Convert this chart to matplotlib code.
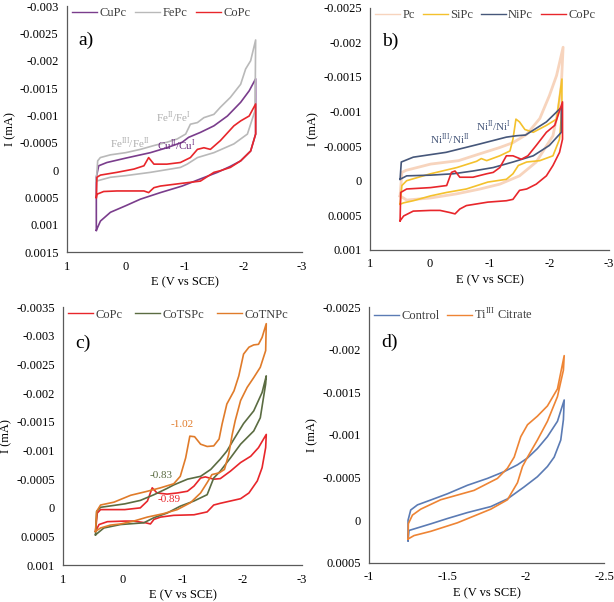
import numpy as np
import matplotlib
matplotlib.use('Agg')
import matplotlib.pyplot as plt
from matplotlib.ticker import MultipleLocator, FuncFormatter

plt.rcParams['font.family'] = ['Liberation Serif', 'DejaVu Serif']
plt.rcParams['mathtext.fontset'] = 'custom'
plt.rcParams['mathtext.rm'] = 'Liberation Serif'
plt.rcParams['axes.unicode_minus'] = False

# ---- data: (E in V vs SCE, I in mA) ----
# panel a
a_cupc = [(0.50, 0.0011), (0.50, 0.00013), (0.46, -0.00008), (0.32, -0.00014), (0.0, -0.00022),
          (-0.42, -0.00032), (-0.70, -0.00041), (-0.96, -0.00051), (-1.07, -0.0006), (-1.27, -0.00069),
          (-1.5, -0.00081), (-1.73, -0.00099), (-1.955, -0.00124), (-2.1, -0.00145), (-2.21, -0.00167),
          (-2.21, -0.00066), (-2.125, -0.00035), (-1.955, -0.00017), (-1.78, -0.00007), (-1.56, 0.00004),
          (-1.27, 0.00016), (-0.96, 0.00029), (-0.59, 0.00041), (-0.25, 0.00053), (0.0, 0.00065),
          (0.26, 0.00077), (0.43, 0.00093), (0.50, 0.0011)]
a_fepc = [(0.50, 0.0002), (0.477, -0.00017), (0.432, -0.00023), (0.261, -0.00028), (0.0, -0.00032),
          (-0.25, -0.00038), (-0.48, -0.00045), (-0.70, -0.00051), (-0.875, -0.00057), (-1.02, -0.00066),
          (-1.10, -0.00084), (-1.22, -0.00087), (-1.33, -0.00096), (-1.5, -0.00102), (-1.61, -0.00115),
          (-1.78, -0.00133), (-1.955, -0.00157), (-2.04, -0.00185), (-2.125, -0.002), (-2.21, -0.00238),
          (-2.2, -0.00109), (-2.07, -0.00066), (-1.84, -0.00048), (-1.5, -0.00032), (-1.22, -0.00023),
          (-1.045, -0.00011), (-0.93, -0.00005), (-0.42, 0.00004), (0.0, 0.0001), (0.26, 0.00013),
          (0.50, 0.0002)]
a_copc = [(0.50, 0.0005), (0.49, 0.00013), (0.43, 0.00009), (0.15, 0.00004), (-0.14, -0.00002),
          (-0.31, -0.00008), (-0.39, -0.00023), (-0.48, -0.00011), (-0.70, -0.00011), (-0.93, -0.00014),
          (-1.10, -0.00023), (-1.22, -0.00038), (-1.33, -0.00041), (-1.44, -0.00038), (-1.61, -0.00054),
          (-1.84, -0.00081), (-1.955, -0.0009), (-2.1, -0.00099), (-2.21, -0.00121), (-2.21, -0.00066),
          (-2.125, -0.00035), (-1.955, -0.00017), (-1.78, -0.00005), (-1.61, 0.00001), (-1.5, 0.00004),
          (-1.27, 0.0002), (-0.96, 0.00024), (-0.59, 0.00029), (-0.48, 0.00032), (-0.39, 0.00041),
          (-0.31, 0.00038), (-0.14, 0.00038), (0.15, 0.00038), (0.375, 0.00039), (0.49, 0.00044),
          (0.50, 0.0005)]

# panel b
b_pc = [(0.50, 0.00022), (0.47, -0.00012), (0.40, -0.00015), (0.17, -0.0002), (-0.01, -0.00024),
        (-0.48, -0.00029), (-0.84, -0.00039), (-1.17, -0.00048), (-1.39, -0.00055), (-1.62, -0.00067),
        (-1.84, -0.0009), (-2.0, -0.00123), (-2.12, -0.00152), (-2.23, -0.00193), (-2.2, -0.00138),
        (-2.15, -0.00104), (-2.06, -0.00065), (-1.78, -0.00027), (-1.5, -0.00007), (-1.17, 0.00005),
        (-0.84, 0.00012), (-0.45, 0.00019), (-0.01, 0.00025), (0.39, 0.00028), (0.50, 0.00022)]
b_sipc = [(0.50, 0.00034), (0.47, 0.00007), (0.39, 0.0), (-0.01, -0.0001), (-0.45, -0.00019),
          (-0.78, -0.00028), (-0.86, -0.00032), (-0.95, -0.00029), (-1.17, -0.00036), (-1.34, -0.00043),
          (-1.39, -0.0006), (-1.44, -0.00089), (-1.5, -0.00085), (-1.59, -0.00074), (-1.73, -0.0007),
          (-1.95, -0.0008), (-2.12, -0.00089), (-2.21, -0.00147), (-2.21, -0.00104), (-2.17, -0.0006),
          (-2.06, -0.00036), (-1.84, -0.00029), (-1.62, -0.00027), (-1.48, -0.00022), (-1.39, -0.0001),
          (-1.28, -0.00002), (-0.97, 0.00002), (-0.61, 0.00012), (-0.28, 0.00017), (-0.01, 0.00022),
          (0.28, 0.00029), (0.44, 0.00032), (0.50, 0.00034)]
b_nipc = [(0.50, -0.00002), (0.48, -0.00027), (0.28, -0.00034), (-0.27, -0.00041), (-0.83, -0.00053),
          (-1.28, -0.00063), (-1.45, -0.00065), (-1.6, -0.00066), (-1.95, -0.00085), (-2.2, -0.00106),
          (-2.2, -0.0007), (-2.0, -0.00051), (-1.73, -0.00036), (-1.39, -0.00027), (-1.06, -0.00019),
          (-0.72, -0.00014), (-0.39, -0.0001), (-0.01, -0.00008), (0.39, -0.00007), (0.50, -0.00002)]
b_copc = [(0.50, 0.00058), (0.49, 0.00017), (0.39, 0.00012), (-0.01, 0.0001), (-0.28, 0.00007),
          (-0.36, -0.00012), (-0.42, -0.00014), (-0.50, -0.00005), (-0.72, -0.00005), (-0.95, -0.0001),
          (-1.06, -0.00012), (-1.17, -0.00019), (-1.28, -0.00036), (-1.39, -0.00036), (-1.53, -0.00031),
          (-1.64, -0.00036), (-1.78, -0.00051), (-1.95, -0.0007), (-2.09, -0.0008), (-2.22, -0.00114),
          (-2.22, -0.0006), (-2.17, -0.00041), (-2.06, -0.00022), (-1.95, -0.00007), (-1.78, 0.00005),
          (-1.62, 0.00012), (-1.5, 0.00014), (-1.39, 0.00027), (-1.28, 0.00029), (-0.97, 0.00031),
          (-0.61, 0.00036), (-0.5, 0.00041), (-0.42, 0.00048), (-0.33, 0.00046), (-0.17, 0.00043),
          (-0.01, 0.00043), (0.28, 0.00044), (0.44, 0.00051), (0.50, 0.00058)]

# panel c
c_copc = [(0.46, 0.00041), (0.43, 0.00009), (0.375, 0.00003), (-0.03, 0.00003), (-0.29, 0.0),
          (-0.41, -0.00012), (-0.49, -0.00035), (-0.57, -0.00026), (-0.74, -0.00024), (-0.91, -0.00026),
          (-1.08, -0.00029), (-1.19, -0.00038), (-1.30, -0.00052), (-1.38, -0.00054), (-1.52, -0.0005),
          (-1.63, -0.00051), (-1.80, -0.00064), (-1.97, -0.00079), (-2.14, -0.0009), (-2.27, -0.00105),
          (-2.40, -0.00128), (-2.39, -0.00105), (-2.33, -0.0007), (-2.25, -0.00047), (-2.11, -0.00026),
          (-1.97, -0.00016), (-1.80, -0.00012), (-1.63, -0.00008), (-1.52, -0.00005), (-1.41, 0.00007),
          (-1.19, 0.00012), (-0.85, 0.00013), (-0.63, 0.00016), (-0.52, 0.0002), (-0.46, 0.00028),
          (-0.38, 0.00026), (-0.18, 0.00023), (-0.03, 0.00023), (0.26, 0.00024), (0.40, 0.00029),
          (0.46, 0.00041)]
c_cotspc = [(0.46, 0.00047), (0.44, 0.00006), (0.375, -0.00001), (-0.03, -0.00007), (-0.29, -0.00013),
            (-0.52, -0.00023), (-0.74, -0.00034), (-0.85, -0.0004), (-1.08, -0.0005), (-1.30, -0.00055),
            (-1.47, -0.00067), (-1.63, -0.00085), (-1.74, -0.00099), (-1.86, -0.0012), (-2.02, -0.00147),
            (-2.19, -0.00169), (-2.33, -0.00201), (-2.40, -0.0023), (-2.39, -0.00216), (-2.30, -0.00157),
            (-2.19, -0.00134), (-1.97, -0.00111), (-1.80, -0.00087), (-1.63, -0.00064), (-1.52, -0.00052),
            (-1.41, -0.00023), (-1.19, -0.00012), (-0.96, -0.00003), (-0.74, 0.00009), (-0.52, 0.00017),
            (-0.35, 0.00026), (0.04, 0.00029), (0.32, 0.00035), (0.46, 0.00047)]
c_cotnpc = [(0.46, 0.00041), (0.44, 0.00006), (0.375, -0.00005), (0.15, -0.0001), (-0.13, -0.00022),
            (-0.41, -0.00029), (-0.63, -0.00035), (-0.85, -0.00042), (-0.96, -0.00055), (-1.05, -0.00087),
            (-1.12, -0.00125), (-1.20, -0.00124), (-1.30, -0.00111), (-1.41, -0.00107), (-1.52, -0.00108),
            (-1.61, -0.0012), (-1.66, -0.00146), (-1.74, -0.00181), (-1.86, -0.00204), (-1.94, -0.0023),
            (-2.02, -0.00268), (-2.11, -0.0028), (-2.19, -0.00284), (-2.27, -0.00285), (-2.33, -0.00297),
            (-2.40, -0.00321), (-2.39, -0.00274), (-2.30, -0.00245), (-2.19, -0.00227), (-2.08, -0.0021),
            (-1.97, -0.00187), (-1.88, -0.00152), (-1.83, -0.00128), (-1.77, -0.00093), (-1.70, -0.00067),
            (-1.61, -0.00061), (-1.49, -0.00058), (-1.41, -0.00044), (-1.30, -0.00026), (-1.13, -0.00009),
            (-0.91, 0.00003), (-0.68, 0.0001), (-0.41, 0.00016), (-0.18, 0.00023), (0.04, 0.00028),
            (0.21, 0.0003), (0.375, 0.00035), (0.46, 0.00041)]

# panel d
d_control = [(-1.249, 0.00024), (-1.249, 0.0), (-1.266, -0.00012), (-1.309, -0.00018), (-1.398, -0.00024),
             (-1.5, -0.00031), (-1.628, -0.00041), (-1.755, -0.00049), (-1.862, -0.00057), (-1.947, -0.00065),
             (-2.011, -0.00073), (-2.074, -0.00084), (-2.138, -0.00098), (-2.202, -0.00116), (-2.245, -0.00141),
             (-2.24, -0.00118), (-2.223, -0.00094), (-2.181, -0.00074), (-2.138, -0.00063), (-2.074, -0.00051),
             (-1.989, -0.00039), (-1.883, -0.00025), (-1.777, -0.00016), (-1.628, -0.00009), (-1.5, -0.00002),
             (-1.398, 0.00004), (-1.309, 0.00009), (-1.255, 0.00012), (-1.249, 0.00024)]
d_ticit = [(-1.249, 0.00022), (-1.251, 0.00004), (-1.277, -0.00006), (-1.33, -0.00013), (-1.457, -0.00024),
           (-1.67, -0.00035), (-1.819, -0.00049), (-1.883, -0.00061), (-1.926, -0.00074), (-1.968, -0.00098),
           (-2.011, -0.00112), (-2.074, -0.00122), (-2.138, -0.00134), (-2.202, -0.00154), (-2.245, -0.00193),
           (-2.24, -0.00176), (-2.202, -0.00145), (-2.138, -0.00116), (-2.074, -0.00094), (-2.011, -0.00074),
           (-1.979, -0.00063), (-1.947, -0.00044), (-1.883, -0.00024), (-1.777, -0.00013), (-1.564, 0.00003),
           (-1.394, 0.00013), (-1.287, 0.00018), (-1.249, 0.00022)]

red = '#e8262b'
fig = plt.figure(figsize=(6.14, 6.02), dpi=100)


def fmt(v, _):
    v = round(v, 5)
    return '0' if v == 0 else f'{v:g}'


def setup(ax, xlim, ylim, xstep, panel):
    ax.set_xlim(*xlim)
    ax.set_ylim(*ylim)
    ax.xaxis.set_major_locator(MultipleLocator(xstep))
    ax.yaxis.set_major_locator(MultipleLocator(0.0005))
    ax.xaxis.set_major_formatter(FuncFormatter(fmt))
    ax.yaxis.set_major_formatter(FuncFormatter(fmt))
    for s in ['top', 'right']:
        ax.spines[s].set_visible(False)
    for s in ['left', 'bottom']:
        ax.spines[s].set_color('#5a5a5a')
        ax.spines[s].set_linewidth(0.9)
    ax.tick_params(length=0, labelsize=9, pad=6)
    ax.set_xlabel('E (V vs SCE)', fontsize=9, labelpad=3)
    ax.set_ylabel('I (mA)', fontsize=9, labelpad=3)
    ax.text(0.05, 0.86, panel, transform=ax.transAxes, fontsize=14, va='center')


def draw(ax, curve, color, label, lw=1.2, alpha=1.0):
    arr = np.array(curve)
    ax.plot(arr[:, 0], arr[:, 1], color=color, lw=lw, label=label, alpha=alpha)


def legend(ax, spacing=0.8):
    lg = ax.legend(loc='center left', bbox_to_anchor=(0.02, 0.97), ncol=4, frameon=False,
                   fontsize=9, handlelength=2.0, handletextpad=0.2, columnspacing=spacing,
                   borderaxespad=0, borderpad=0)
    for t in lg.get_texts():
        t.set_color('#404040')
    for h in lg.get_lines():
        h.set_linewidth(1.0)
        h.set_alpha(1.0)


# a)
ax = fig.add_axes([0.109, 0.581, 0.383, 0.409])
setup(ax, (1, -3), (0.0015, -0.003), 1, 'a)')
draw(ax, a_cupc, '#7a3d8c', 'CuPc')
draw(ax, a_fepc, '#b9b9b9', 'FePc')
draw(ax, a_copc, red, 'CoPc')
legend(ax, 0.7)
ax.text(-0.07, -0.00049, r'Fe$^{\mathrm{III}}$/Fe$^{\mathrm{II}}$', color='#adadad', fontsize=8, ha='center', va='center')
ax.text(-0.82, -0.00097, r'Fe$^{\mathrm{II}}$/Fe$^{\mathrm{I}}$', color='#adadad', fontsize=8, ha='center', va='center')
ax.text(-0.86, -0.00046, r'Cu$^{\mathrm{II}}$/Cu$^{\mathrm{I}}$', color='#6b2a7e', fontsize=8, ha='center', va='center')

# b)
ax = fig.add_axes([0.603, 0.585, 0.389, 0.402])
setup(ax, (1, -3), (0.001, -0.0025), 1, 'b)')
draw(ax, b_pc, '#f7d4bd', 'Pc', lw=2.0)
draw(ax, b_sipc, '#f4c12c', 'SiPc')
draw(ax, b_nipc, '#46577a', 'NiPc')
draw(ax, b_copc, red, 'CoPc')
legend(ax, 0.6)
ax.text(-0.34, -0.000605, r'Ni$^{\mathrm{III}}$/Ni$^{\mathrm{II}}$', color='#46577a', fontsize=8, ha='center', va='center')
ax.text(-1.06, -0.00078, r'Ni$^{\mathrm{II}}$/Ni$^{\mathrm{I}}$', color='#46577a', fontsize=8, ha='center', va='center')

# c)
ax = fig.add_axes([0.103, 0.061, 0.389, 0.429])
setup(ax, (1, -3), (0.001, -0.0035), 1, 'c)')
draw(ax, c_copc, red, 'CoPc')
draw(ax, c_cotspc, '#5b6c42', 'CoTSPc')
draw(ax, c_cotnpc, '#e07b2a', 'CoTNPc')
legend(ax, 1.0)
ax.text(-0.99, -0.00146, '-1.02', color='#e07b2a', fontsize=8, ha='center', va='center')
ax.text(-0.64, -0.00057, '-0.83', color='#5b6c42', fontsize=8, ha='center', va='center')
ax.text(-0.77, -0.000151, '-0.89', color=red, fontsize=8, ha='center', va='center')

# d)
ax = fig.add_axes([0.601, 0.065, 0.383, 0.425])
setup(ax, (-1, -2.5), (0.0005, -0.0025), 0.5, 'd)')
draw(ax, d_control, '#5b7bb4', 'Control')
draw(ax, d_ticit, '#ee8434', r'Ti$^{\mathrm{III}}$ Citrate')
legend(ax, 0.6)

fig.savefig('out.png', dpi=100)
